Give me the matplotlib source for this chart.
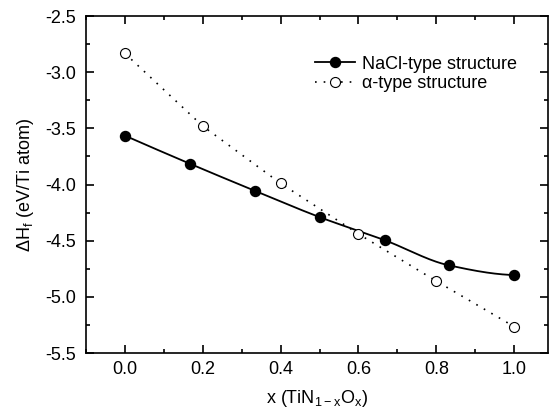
import numpy as np
import matplotlib; matplotlib.use("Agg")
import matplotlib.pyplot as plt
from matplotlib.ticker import MultipleLocator

plt.rcParams.update({"font.family": ["Liberation Sans", "DejaVu Sans"], "font.size": 13,
                     "mathtext.default": "regular", "axes.linewidth": 1.2})

# NaCl-type structure
x_nacl = [0.0, 0.167, 0.333, 0.5, 0.667, 0.833, 1.0]
h_nacl = [-3.565, -3.815, -4.055, -4.29, -4.495, -4.72, -4.806]
# alpha-type structure
x_alpha = [0.0, 0.2, 0.4, 0.6, 0.8, 1.0]
h_alpha = [-2.833, -3.48, -3.99, -4.44, -4.86, -5.265]

def pchip(x, y, n=300):
    # shape-preserving cubic (Fritsch-Carlson) for the smooth connecting line
    x = np.asarray(x, float); y = np.asarray(y, float)
    h = np.diff(x); s = np.diff(y)/h
    d = np.zeros_like(y)
    for i in range(1, len(x)-1):
        if s[i-1]*s[i] > 0:
            w1 = 2*h[i]+h[i-1]; w2 = h[i]+2*h[i-1]
            d[i] = (w1+w2)/(w1/s[i-1] + w2/s[i])
    d[0] = ((2*h[0]+h[1])*s[0] - h[0]*s[1])/(h[0]+h[1])
    d[-1] = ((2*h[-1]+h[-2])*s[-1] - h[-1]*s[-2])/(h[-1]+h[-2])
    xs = np.linspace(x[0], x[-1], n); ys = np.empty_like(xs)
    for j, t in enumerate(xs):
        i = min(np.searchsorted(x, t, side="right")-1, len(x)-2)
        u = (t-x[i])/h[i]
        h00 = 2*u**3-3*u**2+1; h10 = u**3-2*u**2+u
        h01 = -2*u**3+3*u**2; h11 = u**3-u**2
        ys[j] = h00*y[i] + h10*h[i]*d[i] + h01*y[i+1] + h11*h[i]*d[i+1]
    return xs, ys

fig = plt.figure(figsize=(5.52, 4.16), dpi=100)
ax = fig.add_axes([86/552, 1-353/416, 462/552, 337/416])

xs, ys = pchip(x_nacl, h_nacl)
ax.plot(xs, ys, "-", color="black", lw=1.3)
ax.plot(x_nacl, h_nacl, "o", color="black", ms=7.2)
ax.plot(x_alpha, h_alpha, color="black", lw=1.2, ls=(0, (1, 4.2)))
ax.plot(x_alpha, h_alpha, "o", mfc="white", mec="black", mew=0.8, ms=7.2)

# legend proxies
ax.plot([], [], "-o", color="black", ms=7.2, lw=1.3, label="NaCl-type structure")
ax.plot([], [], "o", ls=(0, (1, 4.2)), color="black", mfc="white", mew=0.8, ms=7.2, lw=1.2,
        label="α-type structure")
h, l = ax.get_legend_handles_labels()
ax.legend(h[-2:], l[-2:], loc="upper left", bbox_to_anchor=(0.496, 0.882), frameon=False,
          fontsize=13, handlelength=2.2, handletextpad=0.4, labelspacing=0.12,
          borderaxespad=0, borderpad=0)

ax.set_xlim(-0.1, 1.087)
ax.set_ylim(-5.5, -2.5)
ax.xaxis.set_major_locator(MultipleLocator(0.2))
ax.xaxis.set_minor_locator(MultipleLocator(0.1))
ax.yaxis.set_major_locator(MultipleLocator(0.5))
ax.yaxis.set_minor_locator(MultipleLocator(0.25))
ax.xaxis.set_major_formatter(plt.FormatStrFormatter("%.1f"))
ax.yaxis.set_major_formatter(plt.FormatStrFormatter("%.1f"))
ax.tick_params(which="both", direction="in", top=True, right=True, labelsize=13, width=1.2)
ax.tick_params(which="major", length=6, pad=7)
ax.tick_params(axis="x", which="major", pad=6)
ax.tick_params(which="minor", length=3)

ax.set_xlabel("x (TiN$_{1-x}$O$_x$)", fontsize=13, labelpad=7)
ax.set_ylabel("ΔH$_f$ (eV/Ti atom)", fontsize=13, labelpad=7)

fig.savefig("out.png", dpi=100)
